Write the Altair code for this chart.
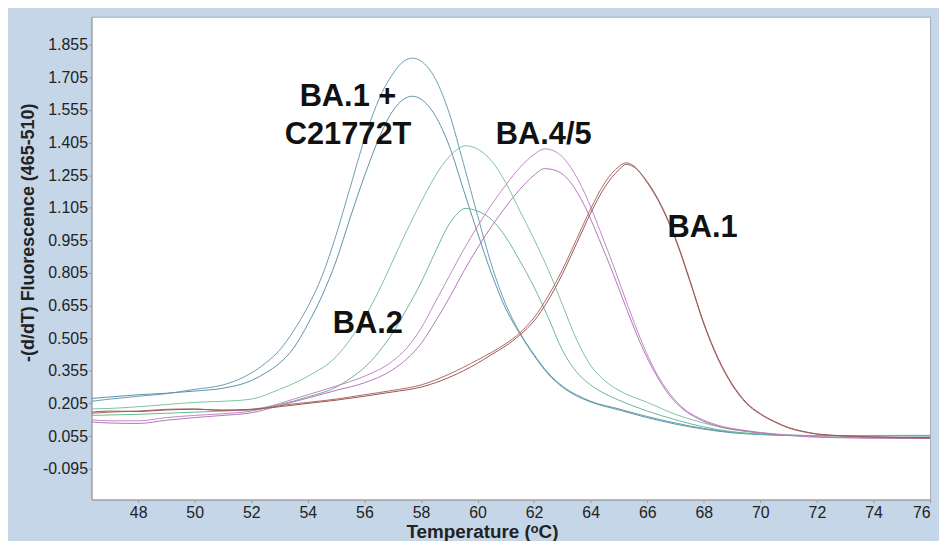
import altair as alt
import pandas as pd

# ---- data ----
blue_x = [46.35, 47, 48, 49, 50, 51, 52, 52.5, 53, 53.5, 54, 54.5, 55, 55.5, 56, 56.5, 57, 57.4, 57.7, 58,
          58.5, 59, 59.5, 60, 60.5, 61, 61.5, 62, 62.5, 63, 63.5, 64, 65, 66, 67, 68, 69, 70, 71, 72, 73, 74, 75, 76]
blue1_y = [0.215, 0.225, 0.238, 0.250, 0.270, 0.290, 0.345, 0.39, 0.45, 0.54, 0.65, 0.79, 0.98, 1.20, 1.42, 1.60,
           1.72, 1.78, 1.793, 1.78, 1.70, 1.54, 1.31, 1.07, 0.84, 0.66, 0.53, 0.43, 0.345, 0.285, 0.245, 0.215,
           0.18, 0.145, 0.115, 0.09, 0.073, 0.064, 0.059, 0.057, 0.056, 0.056, 0.056, 0.055]
blue2_y = [0.228, 0.235, 0.245, 0.252, 0.262, 0.275, 0.31, 0.345, 0.39, 0.46, 0.57, 0.70, 0.86, 1.06, 1.25, 1.42,
           1.55, 1.605, 1.618, 1.605, 1.53, 1.39, 1.19, 0.99, 0.80, 0.64, 0.525, 0.425, 0.34, 0.28, 0.24, 0.212,
           0.175, 0.14, 0.11, 0.087, 0.07, 0.062, 0.058, 0.057, 0.056, 0.056, 0.057, 0.057]

green_x = [46.35, 47, 48, 49, 50, 51, 52, 53, 54, 55, 55.5, 56, 56.5, 57, 57.5, 58, 58.5, 59, 59.3, 59.56, 60,
           60.5, 61, 61.5, 62, 62.5, 63, 63.5, 64, 64.5, 65, 66, 67, 68, 69, 70, 71, 72, 73, 74, 75, 76]
green1_y = [0.18, 0.182, 0.19, 0.20, 0.21, 0.215, 0.225, 0.27, 0.33, 0.42, 0.50, 0.60, 0.72, 0.86, 1.00, 1.13,
            1.25, 1.34, 1.375, 1.39, 1.375, 1.32, 1.22, 1.09, 0.96, 0.82, 0.66, 0.50, 0.38, 0.31, 0.265, 0.21,
            0.155, 0.115, 0.085, 0.068, 0.06, 0.057, 0.057, 0.057, 0.058, 0.058]
green2_y = [0.15, 0.152, 0.155, 0.16, 0.165, 0.17, 0.178, 0.20, 0.235, 0.28, 0.32, 0.37, 0.44, 0.53, 0.64, 0.76,
            0.90, 1.03, 1.08, 1.102, 1.09, 1.05, 0.97, 0.86, 0.74, 0.60, 0.45, 0.35, 0.29, 0.25, 0.22, 0.17,
            0.13, 0.097, 0.075, 0.063, 0.058, 0.057, 0.057, 0.058, 0.058, 0.058]

purple_x = [46.35, 47, 48, 49, 50, 51, 52, 53, 54, 55, 56, 57, 57.5, 58, 58.5, 59, 59.5, 60, 60.5, 61, 61.5, 62,
            62.37, 62.8, 63.3, 63.8, 64.3, 64.8, 65.3, 65.8, 66.3, 66.8, 67.3, 67.8, 68.5, 69.5, 70.5, 71.5,
            72.5, 73.5, 74.5, 76]
purple1_y = [0.13, 0.125, 0.125, 0.14, 0.15, 0.158, 0.17, 0.205, 0.245, 0.285, 0.33, 0.40, 0.46, 0.55, 0.67,
             0.79, 0.91, 1.02, 1.12, 1.21, 1.29, 1.35, 1.376, 1.36, 1.29, 1.17, 1.01, 0.84, 0.66, 0.49, 0.35,
             0.25, 0.18, 0.14, 0.105, 0.08, 0.065, 0.055, 0.05, 0.047, 0.046, 0.045]
purple2_y = [0.12, 0.115, 0.113, 0.128, 0.14, 0.15, 0.162, 0.195, 0.23, 0.265, 0.30, 0.36, 0.41, 0.48, 0.58,
             0.69, 0.81, 0.92, 1.02, 1.11, 1.19, 1.255, 1.285, 1.275, 1.22, 1.11, 0.96, 0.80, 0.63, 0.47, 0.34,
             0.24, 0.175, 0.135, 0.10, 0.078, 0.063, 0.053, 0.048, 0.046, 0.045, 0.044]

brown_x = [46.35, 47, 48, 49, 50, 51, 52, 53, 54, 55, 56, 57, 58, 59, 60, 60.5, 61, 61.5, 62, 62.5, 63, 63.5,
           64, 64.5, 65, 65.25, 65.5, 66, 66.5, 67, 67.5, 68, 68.5, 69, 69.5, 70, 70.5, 71, 71.5, 72, 73, 74,
           75, 76]
brown1_y = [0.16, 0.165, 0.17, 0.178, 0.18, 0.172, 0.175, 0.195, 0.21, 0.225, 0.245, 0.265, 0.29, 0.34, 0.405,
            0.44, 0.48, 0.53, 0.60, 0.70, 0.82, 0.96, 1.10, 1.22, 1.295, 1.312, 1.30, 1.22, 1.11, 0.96, 0.77,
            0.57, 0.41, 0.29, 0.205, 0.155, 0.12, 0.092, 0.075, 0.064, 0.055, 0.05, 0.047, 0.045]
brown2_y = [0.165, 0.17, 0.168, 0.175, 0.178, 0.175, 0.178, 0.19, 0.205, 0.22, 0.238, 0.258, 0.28, 0.325, 0.39,
            0.43, 0.47, 0.52, 0.585, 0.68, 0.80, 0.94, 1.08, 1.20, 1.28, 1.305, 1.295, 1.225, 1.115, 0.965,
            0.775, 0.575, 0.415, 0.295, 0.21, 0.158, 0.122, 0.094, 0.077, 0.065, 0.056, 0.051, 0.049, 0.048]

curve_names = ["blue1", "blue2", "green1", "green2", "purple1", "purple2", "brown1", "brown2"]
curve_colors = ["#6a9db2", "#5d92a8", "#7cc2a3", "#6db596", "#c088c6", "#b078b8", "#aa6c66", "#985858"]
curves = [(blue_x, blue1_y), (blue_x, blue2_y), (green_x, green1_y), (green_x, green2_y),
          (purple_x, purple1_y), (purple_x, purple2_y), (brown_x, brown1_y), (brown_x, brown2_y)]

label_text = ["BA.1 +", "C21772T", "BA.4/5", "BA.1", "BA.2"]
label_x = [55.42, 55.42, 62.34, 67.96, 56.12]
label_y = [1.573, 1.399, 1.399, 0.969, 0.531]

x_ticks = list(range(48, 77, 2))
y_ticks = [round(-0.095 + 0.15 * k, 3) for k in range(14)]

rows = []
for name, (xs, ys) in zip(curve_names, curves):
    for i, (xv, yv) in enumerate(zip(xs, ys)):
        rows.append({"curve": name, "order": i, "T": xv, "F": yv})
df = pd.DataFrame(rows)
labels_df = pd.DataFrame({"text": label_text, "T": label_x, "F": label_y})

FONT = "Liberation Sans"

xscale = alt.Scale(domain=[46.35, 76], nice=False, zero=False)
yscale = alt.Scale(domain=[-0.237, 1.984], nice=False, zero=False)

x_axis = alt.Axis(
    values=x_ticks, title="Temperature (ᵒC)", grid=False, labelFontSize=16, labelColor="#222",
    labelFont=FONT, tickSize=3, tickColor="#999", domainColor="#999", labelPadding=2,
    labelOverlap=False,
    titleFont=FONT, titleFontSize=19, titleFontWeight="bold", titleColor="#222",
    titleX=393, titleY=38, titleBaseline="alphabetic", titleAlign="center")
y_axis = alt.Axis(
    values=y_ticks, labelExpr="replace(format(datum.value, '.3f'), '\u2212', '-')",
    title="-(d/dT) Fluorescence (465-510)", grid=False, labelFontSize=16, labelColor="#222",
    labelFont=FONT, tickSize=3, tickColor="#999", domainColor="#999", labelPadding=1,
    labelOverlap=False, labelBound=False, labelFlush=False,
    titleFont=FONT, titleFontSize=18, titleFontWeight="bold", titleColor="#222",
    titleX=-63, titleY=217, titleAngle=-90, titleAlign="center", titleBaseline="middle")

lines = alt.Chart(df).mark_line(strokeWidth=1, interpolate="monotone", clip=True).encode(
    x=alt.X("T:Q", scale=xscale, axis=x_axis),
    y=alt.Y("F:Q", scale=yscale, axis=y_axis),
    color=alt.Color("curve:N", scale=alt.Scale(domain=curve_names, range=curve_colors), legend=None),
    detail="curve:N",
    order="order:Q",
)

texts = alt.Chart(labels_df).mark_text(
    font=FONT, fontSize=31, fontWeight="bold", color="#111", align="center", baseline="alphabetic"
).encode(x=alt.X("T:Q", scale=xscale, axis=x_axis), y=alt.Y("F:Q", scale=yscale, axis=y_axis), text="text:N")

chart = alt.layer(lines, texts).properties(
    width=844, height=486,
    autosize=alt.AutoSizeParams(type="none"),
    padding={"left": 84, "top": 7, "right": 9, "bottom": 40},
    background="#c5d6e8",
).configure_view(fill="white", stroke="#a3abb5", strokeWidth=1).configure_axis(labelOverlap=False)

chart.save("out.html", embed_options={"renderer": "svg", "actions": False})
